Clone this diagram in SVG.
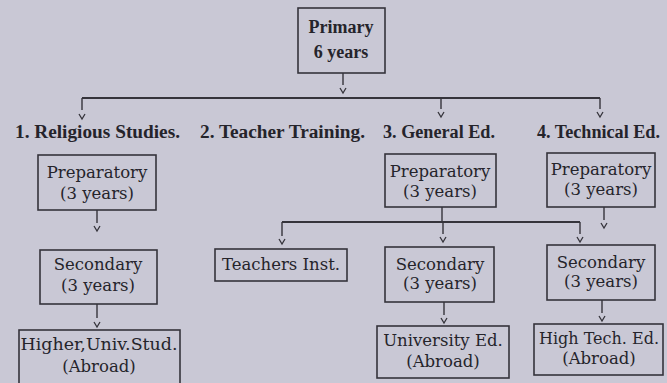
<svg xmlns="http://www.w3.org/2000/svg" xmlns:xlink="http://www.w3.org/1999/xlink" width="667" height="383" viewBox="0 0 667 383">
<style>
  .bg { fill: #c9c8d5; }
  .box { fill: none; stroke: #35343b; stroke-width: 1.6; }
  .t { font-family: "DejaVu Serif", "Liberation Serif", serif; font-size: 16.5px; fill: #25242b; text-anchor: middle; }
  .hd { font-family: "Liberation Serif", "DejaVu Serif", serif; font-size: 18.5px; font-weight: bold; fill: #25242b; }
  .pr { font-family: "Liberation Serif", "DejaVu Serif", serif; font-size: 18px; font-weight: bold; fill: #25242b; text-anchor: middle; }
  .ln { fill: none; stroke: #35343b; stroke-width: 1.4; }
  .hl { fill: none; stroke: #35343b; stroke-width: 2; }
  .ch { fill: none; stroke: #35343b; stroke-width: 1.3; }
</style>
<defs>
  <path id="chev" class="ch" d="M-3,0 L0,5 L3,0"/>
</defs>
<rect class="bg" x="0" y="0" width="667" height="383"/>

<g id="connectors">
  <line class="ln" x1="343" y1="73" x2="343" y2="85"/>
  <use xlink:href="#chev" x="343" y="88"/>
  <line class="hl" x1="82" y1="98" x2="600" y2="98"/>
  <line class="ln" x1="82" y1="98" x2="82" y2="110"/>
  <use xlink:href="#chev" x="82" y="114"/>
  <line class="ln" x1="441" y1="98" x2="441" y2="109"/>
  <use xlink:href="#chev" x="441" y="112"/>
  <line class="ln" x1="600" y1="98" x2="600" y2="109"/>
  <use xlink:href="#chev" x="600" y="112"/>

  <line class="ln" x1="97" y1="210" x2="97" y2="223"/>
  <use xlink:href="#chev" x="97" y="226"/>
  <line class="ln" x1="97" y1="304" x2="97" y2="318"/>
  <use xlink:href="#chev" x="97" y="322"/>

  <line class="ln" x1="442" y1="207" x2="442" y2="222"/>
  <line class="hl" x1="282" y1="222" x2="580" y2="222"/>
  <line class="ln" x1="282" y1="222" x2="282" y2="236"/>
  <use xlink:href="#chev" x="282" y="239"/>
  <line class="ln" x1="443" y1="222" x2="443" y2="234"/>
  <use xlink:href="#chev" x="443" y="237"/>
  <line class="ln" x1="580" y1="222" x2="580" y2="234"/>
  <use xlink:href="#chev" x="580" y="237"/>

  <line class="ln" x1="444" y1="302" x2="444" y2="315"/>
  <use xlink:href="#chev" x="444" y="318"/>

  <line class="ln" x1="604" y1="207" x2="604" y2="220"/>
  <use xlink:href="#chev" x="604" y="223"/>
  <line class="ln" x1="602" y1="300" x2="602" y2="313"/>
  <use xlink:href="#chev" x="602" y="316"/>
</g>

<g id="primary">
  <rect class="box" x="298" y="8" width="87" height="65"/>
  <text class="pr" x="341" y="33">Primary</text>
  <text class="pr" x="341" y="58">6 years</text>
</g>

<g id="label-religious"><text class="hd" x="15" y="138" textLength="165" lengthAdjust="spacingAndGlyphs">1. Religious Studies.</text></g>
<g id="label-teacher"><text class="hd" x="200" y="138" textLength="165" lengthAdjust="spacingAndGlyphs">2. Teacher Training.</text></g>
<g id="label-general"><text class="hd" x="383" y="138" textLength="112" lengthAdjust="spacingAndGlyphs">3. General Ed.</text></g>
<g id="label-technical"><text class="hd" x="537" y="138" textLength="123" lengthAdjust="spacingAndGlyphs">4. Technical Ed.</text></g>

<g id="rel-prep">
  <rect class="box" x="38" y="155" width="118" height="55"/>
  <text class="t" x="97" y="178">Preparatory</text>
  <text class="t" x="97" y="199">(3 years)</text>
</g>
<g id="rel-sec">
  <rect class="box" x="40" y="250" width="117" height="54"/>
  <text class="t" x="98" y="270">Secondary</text>
  <text class="t" x="98" y="291">(3 years)</text>
</g>
<g id="rel-higher">
  <rect class="box" x="19" y="330" width="161" height="60"/>
  <text class="t" x="99" y="350" textLength="157" lengthAdjust="spacingAndGlyphs">Higher,Univ.Stud.</text>
  <text class="t" x="99" y="372">(Abroad)</text>
</g>

<g id="teachers-inst">
  <rect class="box" x="215" y="249" width="132" height="32"/>
  <text class="t" x="281" y="270">Teachers Inst.</text>
</g>

<g id="gen-prep">
  <rect class="box" x="385" y="154" width="111" height="53"/>
  <text class="t" x="440" y="177">Preparatory</text>
  <text class="t" x="440" y="197">(3 years)</text>
</g>
<g id="gen-sec">
  <rect class="box" x="385" y="247" width="109" height="55"/>
  <text class="t" x="440" y="270">Secondary</text>
  <text class="t" x="440" y="289">(3 years)</text>
</g>
<g id="gen-univ">
  <rect class="box" x="377" y="326" width="132" height="52"/>
  <text class="t" x="443" y="346">University Ed.</text>
  <text class="t" x="443" y="367">(Abroad)</text>
</g>

<g id="tech-prep">
  <rect class="box" x="547" y="153" width="108" height="54"/>
  <text class="t" x="601" y="175">Preparatory</text>
  <text class="t" x="601" y="195">(3 years)</text>
</g>
<g id="tech-sec">
  <rect class="box" x="547" y="245" width="108" height="55"/>
  <text class="t" x="601" y="268">Secondary</text>
  <text class="t" x="601" y="287">(3 years)</text>
</g>
<g id="tech-high">
  <rect class="box" x="534" y="324" width="129" height="51"/>
  <text class="t" x="599" y="344" textLength="120" lengthAdjust="spacingAndGlyphs">High Tech. Ed.</text>
  <text class="t" x="599" y="364">(Abroad)</text>
</g>
</svg>
